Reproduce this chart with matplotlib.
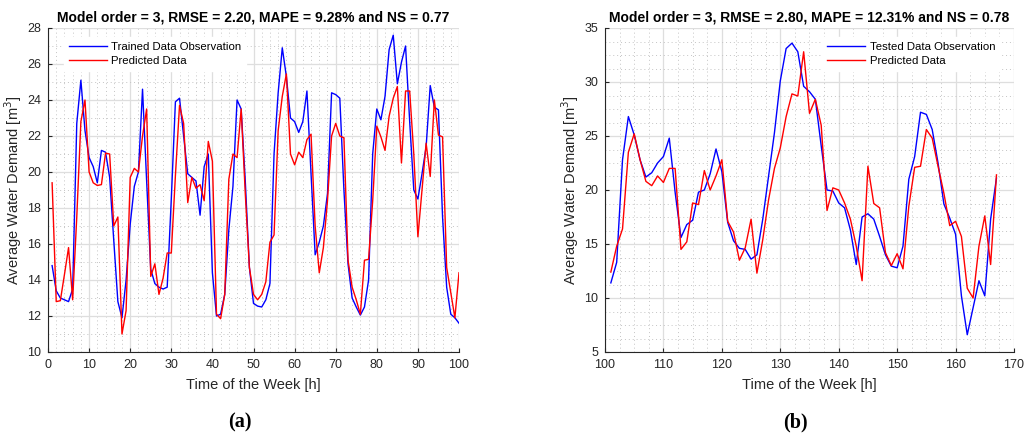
import matplotlib
matplotlib.use("Agg")
import matplotlib.pyplot as plt
from matplotlib.ticker import MultipleLocator
import numpy as np

# ---------------- data ----------------
train_hours = list(range(1, 101))
train_observed = [
    14.8, 13.4, 13.0, 12.9, 12.8, 13.5, 22.7, 25.1, 22.3, 20.8,
    20.3, 19.4, 21.2, 21.1, 19.7, 16.2, 12.8, 11.9, 14.0, 17.1,
    19.2, 20.0, 24.6, 19.5, 14.6, 13.8, 13.6, 13.5, 13.6, 18.5,
    23.9, 24.1, 22.0, 19.9, 19.7, 19.5, 17.6, 20.3, 21.0, 14.4,
    12.0, 12.1, 13.2, 16.8, 19.2, 24.0, 23.5, 19.5, 14.7, 12.7,
    12.55, 12.5, 12.9, 13.8, 21.0, 24.4, 26.9, 25.3, 23.0, 22.8,
    22.2, 22.8, 24.5, 19.9, 15.4, 16.1, 17.0, 18.8, 24.4, 24.3,
    24.1, 19.0, 14.9, 13.0, 12.5, 12.05, 12.5, 14.0, 21.0, 23.5,
    22.9, 24.2, 26.8, 27.6, 24.9, 26.1, 27.0, 22.8, 19.0, 18.5,
    19.9, 21.4, 24.8, 23.6, 23.45, 17.5, 13.6, 12.1, 11.9, 11.6,
]
train_predicted = [
    19.4, 12.8, 12.85, 14.3, 15.8, 12.9, 17.5, 22.8, 24.0, 20.0,
    19.4, 19.25, 19.3, 21.05, 21.0, 17.0, 17.5, 11.0, 12.3, 19.7,
    20.2, 20.0, 22.0, 23.5, 14.2, 14.9, 13.2, 14.1, 15.5, 15.5,
    19.8, 23.7, 22.7, 18.3, 19.7, 19.1, 19.3, 18.4, 21.7, 20.6,
    12.1, 11.85, 13.2, 19.6, 21.0, 20.8, 23.5, 18.8, 14.7, 13.2,
    12.9, 13.2, 13.9, 16.1, 16.5, 22.3, 24.2, 25.45, 21.0, 20.4,
    21.1, 20.8, 21.8, 22.1, 17.0, 14.4, 15.8, 18.4, 22.0, 22.7,
    22.0, 21.9, 15.1, 13.6, 12.9, 12.1, 15.1, 15.15, 18.4, 22.55,
    21.95, 21.2, 23.1, 24.1, 24.75, 20.5, 24.5, 24.5, 21.0, 16.4,
    19.0, 21.6, 19.75, 24.0, 22.05, 21.95, 14.7, 13.3, 11.9, 14.4,
]

test_hours = list(range(101, 168))
test_observed = [
    11.4, 13.3, 22.8, 26.8, 25.1, 22.8, 21.2, 21.6, 22.5, 23.1,
    24.8, 19.8, 15.6, 16.8, 17.2, 19.8, 20.0, 21.5, 23.8, 21.7,
    17.0, 15.3, 14.6, 14.5, 13.6, 14.0, 17.3, 21.3, 25.3, 30.1,
    33.1, 33.6, 32.8, 29.6, 29.1, 28.4, 24.1, 20.0, 19.9, 18.8,
    18.35, 16.3, 13.1, 17.5, 17.8, 17.3, 15.7, 14.0, 12.95, 12.8,
    14.8, 21.0, 23.1, 27.2, 27.0, 25.6, 22.5, 18.7, 17.4, 15.9,
    10.2, 6.6, 9.1, 11.6, 10.2, 17.3, 21.1,
]
test_predicted = [
    12.4, 14.8, 16.4, 23.5, 25.2, 22.8, 20.8, 20.4, 21.3, 20.7,
    22.0, 22.0, 14.5, 15.2, 18.8, 18.65, 21.8, 20.0, 21.3, 22.8,
    17.1, 16.1, 13.5, 14.65, 17.3, 12.3, 15.4, 19.1, 22.0, 23.9,
    26.8, 28.9, 28.7, 32.8, 27.1, 28.4, 26.0, 18.1, 20.2, 20.0,
    18.8, 17.3, 14.8, 11.6, 22.2, 18.75, 18.35, 14.2, 13.0, 14.1,
    12.7, 18.5, 22.1, 22.2, 25.6, 24.8, 22.2, 19.7, 16.7, 17.1,
    15.7, 10.9, 10.0, 14.8, 17.6, 13.1, 21.4,
]

title_a = "Model order = 3, RMSE = 2.20, MAPE = 9.28% and NS = 0.77"
title_b = "Model order = 3, RMSE = 2.80, MAPE = 12.31% and NS = 0.78"
legend_a = ["Trained Data Observation", "Predicted Data"]
legend_b = ["Tested Data Observation", "Predicted Data"]
xlabel = "Time of the Week [h]"
ylabel = "Average Water Demand [m$^3$]"

# ---------------- figure ----------------
plt.rcParams['font.family'] = ['Liberation Sans', 'DejaVu Sans']

fig = plt.figure(figsize=(10.26, 4.38), dpi=100)
axA = fig.add_axes([48/1026, 1-352/438, 411/1026, 324/438])
axB = fig.add_axes([605/1026, 1-352/438, 409/1026, 324/438])

def style(ax, xlim, ylim, xmaj, xmin, ymaj, ymin):
    ax.set_xlim(*xlim)
    ax.set_ylim(*ylim)
    ax.xaxis.set_major_locator(MultipleLocator(xmaj))
    ax.xaxis.set_minor_locator(MultipleLocator(xmin))
    ax.yaxis.set_major_locator(MultipleLocator(ymaj))
    ax.yaxis.set_minor_locator(MultipleLocator(ymin))
    ax.grid(which='major', color='#dedede', lw=0.9, ls='-')
    ax.grid(which='minor', color='#c4c4c4', lw=0.7, ls=(0, (1, 3)))
    ax.set_axisbelow(True)
    for s in ['top', 'right']:
        ax.spines[s].set_visible(False)
    for s in ['left', 'bottom']:
        ax.spines[s].set_color('#262626')
        ax.spines[s].set_linewidth(0.8)
    ax.tick_params(which='major', direction='in', length=3, width=0.8,
                   colors='#262626', labelsize=9, pad=5)
    ax.tick_params(which='minor', length=0)
    ax.set_xlabel(xlabel, fontsize=10.5, color='#262626', labelpad=5)
    ax.set_ylabel(ylabel, fontsize=10.5, color='#262626', labelpad=2)

axA.plot(train_hours, train_observed, color='#0000ff', lw=1.0, label=legend_a[0])
axA.plot(train_hours, train_predicted, color='#ff0000', lw=1.0, label=legend_a[1])
style(axA, (0, 100), (10, 28), 10, 2, 2, 1)
axA.set_title(title_a, fontsize=10, fontweight='bold', pad=5)
legA = axA.legend(loc='upper left', bbox_to_anchor=(0.025, 0.99), fontsize=8.2,
                  frameon=True, facecolor='white', edgecolor='white', framealpha=1,
                  handlelength=3.3, handletextpad=0.4, borderpad=0.45, labelspacing=0.35)
legA.get_frame().set_boxstyle('square', pad=0)

axB.plot(test_hours, test_observed, color='#0000ff', lw=1.0, label=legend_b[0])
axB.plot(test_hours, test_predicted, color='#ff0000', lw=1.0, label=legend_b[1])
style(axB, (100, 170), (5, 35), 10, 2.5, 5, 1.25)
axB.set_title(title_b, fontsize=10, fontweight='bold', pad=5)
legB = axB.legend(loc='upper right', bbox_to_anchor=(0.98, 0.99), fontsize=8.2,
                  frameon=True, facecolor='white', edgecolor='white', framealpha=1,
                  handlelength=3.3, handletextpad=0.4, borderpad=0.45, labelspacing=0.35)
legB.get_frame().set_boxstyle('square', pad=0)

fig.text(240/1026, 1-422/438, "(a)", ha='center', va='center', fontsize=14.5,
         fontweight='bold', family=['Liberation Serif', 'DejaVu Serif'])
fig.text(795/1026, 1-422/438, "(b)", ha='center', va='center', fontsize=14.5,
         fontweight='bold', family=['Liberation Serif', 'DejaVu Serif'])

fig.savefig("out.png", dpi=100)
